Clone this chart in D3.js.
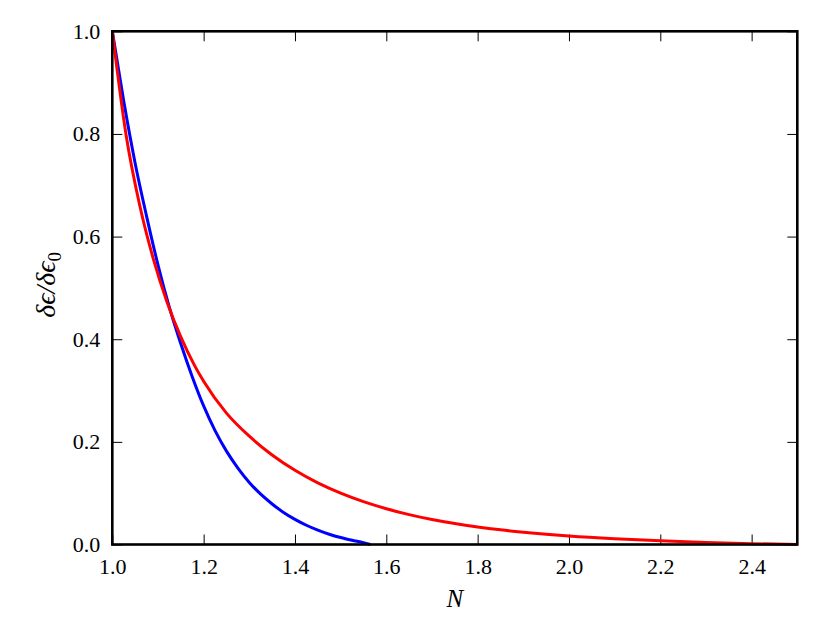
<!DOCTYPE html>
<html>
<head>
<meta charset="utf-8">
<script src="https://cdn.jsdelivr.net/npm/d3@7"></script>
<style>
  html, body { margin: 0; padding: 0; background: #fff; }
  svg { display: block; }
  .serif { font-family: "Liberation Serif", Tinos, "Times New Roman", Times, "DejaVu Serif", "Noto Serif", serif; }
</style>
</head>
<body>
<svg id="chart" width="830" height="623"></svg>
<script>
// ---- data ----
const blueN = [1.000, 1.025, 1.050, 1.075, 1.100, 1.125, 1.150, 1.175, 1.200, 1.225, 1.250, 1.275, 1.300, 1.325, 1.350, 1.375, 1.400, 1.425, 1.450, 1.475, 1.500, 1.525, 1.550, 1.565];
const blueY = [1.000, 0.864, 0.743, 0.640, 0.545, 0.462, 0.391, 0.327, 0.270, 0.222, 0.182, 0.149, 0.121, 0.098, 0.079, 0.0625, 0.049, 0.0375, 0.028, 0.020, 0.0135, 0.0082, 0.0035, 0.000];

const redN = [1.00, 1.03, 1.06, 1.09, 1.12, 1.15, 1.18, 1.20, 1.25, 1.30, 1.35, 1.40, 1.45, 1.50, 1.55, 1.60, 1.65, 1.70, 1.75, 1.80, 1.85, 1.90, 1.95, 2.00, 2.10, 2.20, 2.30, 2.40, 2.50];
const redY = [1.000, 0.799, 0.661, 0.556, 0.472, 0.4045, 0.349, 0.318, 0.256, 0.211, 0.1745, 0.1445, 0.120, 0.100, 0.0835, 0.0697, 0.0582, 0.0487, 0.0408, 0.0342, 0.0286, 0.0239, 0.0199, 0.0165, 0.0112, 0.0072, 0.0040, 0.0016, 0.000];

const xTicks = [1.0, 1.2, 1.4, 1.6, 1.8, 2.0, 2.2, 2.4];
const yTicks = [0.0, 0.2, 0.4, 0.6, 0.8, 1.0];
const xDomain = [1.0, 2.5];
const yDomain = [0.0, 1.0];

// ---- layout ----
const svg = d3.select("#chart");
const L = 112.3, R = 797.3, T = 31.3, B = 544.5;
const x = d3.scaleLinear().domain(xDomain).range([L, R]);
const y = d3.scaleLinear().domain(yDomain).range([B, T]);
const fmt = d3.format(".1f");

function styleAxis(g, labels) {
  g.attr("font-family", null).attr("font-size", null);
  g.select(".domain").remove();
  g.selectAll(".tick line").attr("stroke", "#000").attr("stroke-width", 1);
  g.selectAll(".tick text")
    .attr("class", "serif")
    .attr("fill", "#000")
    .style("font-size", "22px");
  if (!labels) g.selectAll(".tick text").remove();
}

svg.append("g").attr("transform", `translate(0,${B})`)
  .call(d3.axisBottom(x).tickValues(xTicks).tickFormat(fmt).tickSize(-10).tickPadding(14))
  .call(g => styleAxis(g, true));
svg.append("g").attr("transform", `translate(0,${T})`)
  .call(d3.axisTop(x).tickValues(xTicks).tickFormat(fmt).tickSize(-10))
  .call(g => styleAxis(g, false));
svg.append("g").attr("transform", `translate(${L},0)`)
  .call(d3.axisLeft(y).tickValues(yTicks).tickFormat(fmt).tickSize(-10).tickPadding(12))
  .call(g => styleAxis(g, true));
svg.append("g").attr("transform", `translate(${R},0)`)
  .call(d3.axisRight(y).tickValues(yTicks).tickFormat(fmt).tickSize(-10))
  .call(g => styleAxis(g, false));

// ---- curves ----
const line = d3.line().x(d => x(d[0])).y(d => y(d[1])).curve(d3.curveMonotoneX);
svg.append("path")
  .datum(d3.zip(blueN, blueY))
  .attr("d", line).attr("fill", "none")
  .attr("stroke", "#0000ff").attr("stroke-width", 3);
svg.append("path")
  .datum(d3.zip(redN, redY))
  .attr("d", line).attr("fill", "none")
  .attr("stroke", "#ff0000").attr("stroke-width", 3);

// ---- frame ----
svg.append("rect")
  .attr("x", L).attr("y", T).attr("width", R - L).attr("height", B - T)
  .attr("fill", "none").attr("stroke", "#000").attr("stroke-width", 2.6);

// ---- axis labels ----
svg.append("text")
  .attr("class", "serif")
  .attr("x", (L + R) / 2).attr("y", 607)
  .attr("text-anchor", "middle")
  .style("font-style", "italic").style("font-size", "25px")
  .text("N");

const yl = svg.append("text")
  .attr("class", "serif")
  .attr("transform", `translate(55,${(T + B) / 2 - 3}) rotate(-90)`)
  .attr("text-anchor", "middle")
  .style("font-style", "italic").style("font-size", "28px");
yl.append("tspan").text("δϵ/δϵ");
yl.append("tspan").attr("dy", 6).style("font-size", "19px").style("font-style", "normal").text("0");
</script>
</body>
</html>
